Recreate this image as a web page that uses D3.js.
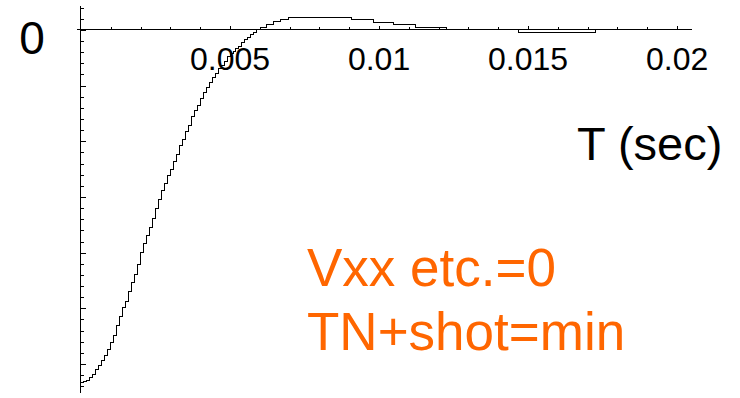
<!DOCTYPE html>
<html>
<head>
<meta charset="utf-8">
<script src="https://cdn.jsdelivr.net/npm/d3@7"></script>
<style>
  body { margin: 0; background: #fff; }
  svg { display: block; font-family: 'Liberation Sans', Arial, sans-serif; }
</style>
</head>
<body>
<div class="chart"></div>
<script>
// sampled every 0.1 ms on the way up
const sampleSec = 0.0001
const riseLevels = [
  -6.33, -6.32, -6.30, -6.25, -6.18, -6.10, -6.03, -5.94, -5.85, -5.74,
  -5.62, -5.48, -5.31, -5.15, -4.99, -4.87, -4.70, -4.54, -4.40, -4.22,
  -4.00, -3.84, -3.70, -3.54, -3.38, -3.21, -3.05, -2.89, -2.75, -2.62,
  -2.50, -2.37, -2.23, -2.08, -1.96, -1.83, -1.71, -1.56, -1.45, -1.35,
  -1.24, -1.13, -1.04, -0.95, -0.86, -0.79, -0.70, -0.63, -0.56, -0.48,
  -0.43, -0.38, -0.33, -0.29, -0.23, -0.18, -0.13, -0.09, -0.04, 0.00
]
// after the crossing the level only changes now and then
const tailTimes = [0.00603, 0.00623, 0.00645, 0.00668, 0.00696, 0.00908, 0.00981, 0.01048, 0.01121, 0.01227, 0.01467, 0.01727, 0.0200]
const tailLevels = [0.04, 0.10, 0.15, 0.18, 0.23, 0.18, 0.14, 0.09, 0.04, 0.00, -0.05, 0.00, 0.00]

const xLabelTicks = [0.005, 0.01, 0.015, 0.02]
const xLabels = ['0.005', '0.01', '0.015', '0.02']
const yLabel = '0'
const xTitle = 'T (sec)'
const note = ['Vxx etc.=0', 'TN+shot=min']

const width = 740
const height = 398

let svg = d3.select('.chart')
  .append('svg')
  .attr('width', width)
  .attr('height', height)

let x = d3.scaleLinear()
  .domain([-0.000134, 0.0205])
  .range([77, 692])

let y = d3.scaleLinear()
  .domain([-6.52, 0.43])
  .range([393, 6])

let points = riseLevels.map((v, i) => [i * sampleSec, v])
tailTimes.forEach((t, i) => points.push([t, tailLevels[i]]))

// x axis, ticks pointing up
let xMinor = d3.range(1, 21).map(i => i / 1000).filter(t => !xLabelTicks.includes(t))

svg.append('g')
  .attr('transform', 'translate(0,' + y(0) + ')')
  .call(d3.axisTop(x).tickValues(xMinor).tickSize(3).tickSizeOuter(0).tickFormat(''))
  .call(g => g.select('.domain').attr('d', 'M' + x.range()[0] + ',0H' + x.range()[1]))

svg.append('g')
  .attr('transform', 'translate(0,' + y(0) + ')')
  .call(d3.axisTop(x).tickValues(xLabelTicks).tickSize(4).tickFormat(''))
  .call(g => g.select('.domain').remove())

// y axis, ticks pointing right
let yAll = d3.range(-32, 3).map(i => i / 5)
let yMajor = yAll.filter(v => Math.abs(v - Math.round(v)) < 1e-9)
let yMinor = yAll.filter(v => !yMajor.includes(v))

svg.append('g')
  .attr('transform', 'translate(' + x(0) + ',0)')
  .call(d3.axisRight(y).tickValues(yMinor).tickSize(3).tickSizeOuter(0).tickFormat(''))
  .call(g => g.select('.domain').attr('d', 'M0,' + y.range()[1] + 'V' + y.range()[0]))

svg.append('g')
  .attr('transform', 'translate(' + x(0) + ',0)')
  .call(d3.axisRight(y).tickValues(yMajor).tickSize(5).tickFormat(''))
  .call(g => g.select('.domain').remove())

svg.selectAll('.domain, .tick line')
  .attr('stroke', '#000')
  .attr('shape-rendering', 'crispEdges')

// the trace
let line = d3.line()
  .x(d => x(d[0]))
  .y(d => y(d[1]))
  .curve(d3.curveStepAfter)

svg.append('path')
  .datum(points)
  .attr('d', line)
  .attr('fill', 'none')
  .attr('stroke', '#000')
  .attr('stroke-width', 1)
  .attr('shape-rendering', 'crispEdges')

// labels
svg.selectAll('.x-label')
  .data(xLabelTicks)
  .enter()
  .append('text')
  .attr('class', 'x-label')
  .attr('x', d => x(d))
  .attr('y', y(0) + 40)
  .attr('text-anchor', 'middle')
  .attr('font-size', 32)
  .text((d, i) => xLabels[i])

svg.append('text')
  .attr('x', 32)
  .attr('y', 54)
  .attr('text-anchor', 'middle')
  .attr('font-size', 46)
  .text(yLabel)

svg.append('text')
  .attr('x', 577)
  .attr('y', 160)
  .attr('font-size', 47)
  .text(xTitle)

svg.selectAll('.note')
  .data(note)
  .enter()
  .append('text')
  .attr('class', 'note')
  .attr('x', 307)
  .attr('y', (d, i) => 286 + i * 63.5)
  .attr('font-size', 53)
  .attr('fill', '#ff6600')
  .text(d => d)
</script>
</body>
</html>
